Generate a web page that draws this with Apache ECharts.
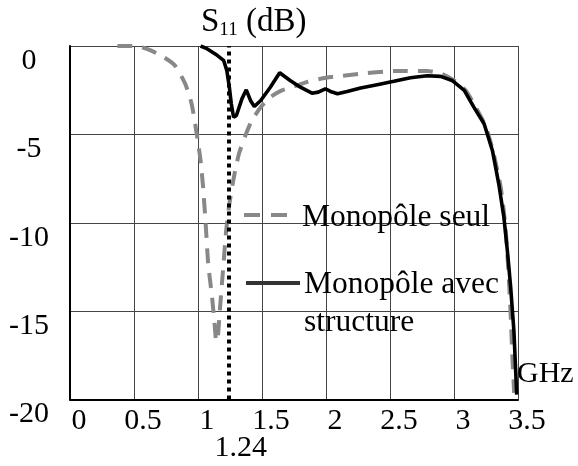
<!DOCTYPE html>
<html>
<head>
<meta charset="utf-8">
<script src="https://cdn.jsdelivr.net/npm/echarts@6/dist/echarts.min.js"></script>
<style>html,body{margin:0;padding:0;background:#fff;}#c{width:578px;height:466px;}</style>
</head>
<body>
<div id="c"></div>
<script>
// ---- data ----
const xTicks = [0, 0.5, 1, 1.5, 2, 2.5, 3, 3.5];
const yTicks = [-20, -15, -10, -5, 0];
const markerFreq = 1.24;

const seriesNames = ['Monopôle seul', 'Monopôle avec\nstructure'];

const freqSeul = [0.37, 0.48, 0.55, 0.63, 0.73, 0.82, 0.90, 0.95, 0.99, 1.02, 1.04, 1.06, 1.08, 1.11, 1.13, 1.14, 1.15, 1.17, 1.195, 1.22, 1.245, 1.28, 1.32, 1.37, 1.42, 1.49, 1.565, 1.655, 1.75, 1.85, 2.0, 2.27, 2.53, 2.79, 2.9, 3.0, 3.09, 3.17, 3.25, 3.31, 3.365, 3.4, 3.425, 3.445, 3.455, 3.47];
const s11Seul = [0, 0, -0.05, -0.25, -0.62, -1.1, -2.14, -3.27, -4.97, -6.48, -8.0, -10.08, -12.34, -14.23, -15.75, -16.6, -16.7, -15.0, -12.72, -10.45, -8.94, -7.43, -6.1, -5.07, -4.22, -3.46, -2.89, -2.51, -2.29, -2.04, -1.8, -1.57, -1.42, -1.42, -1.57, -1.95, -2.51, -3.46, -4.59, -6.1, -8.0, -10.08, -12.72, -15.56, -17.45, -19.62];

const freqAvec = [1.02, 1.07, 1.15, 1.2, 1.225, 1.245, 1.26, 1.278, 1.3, 1.343, 1.377, 1.41, 1.44, 1.49, 1.565, 1.638, 1.72, 1.8, 1.89, 1.94, 1.995, 2.035, 2.09, 2.165, 2.27, 2.4, 2.53, 2.66, 2.79, 2.895, 2.985, 3.08, 3.155, 3.235, 3.3, 3.35, 3.39, 3.417, 3.443, 3.468, 3.482, 3.49];
const s11Avec = [0, -0.15, -0.53, -0.81, -1.38, -2.33, -3.27, -4.03, -3.93, -2.99, -2.48, -3.08, -3.42, -3.08, -2.33, -1.51, -1.95, -2.33, -2.67, -2.61, -2.42, -2.57, -2.7, -2.57, -2.38, -2.19, -2.0, -1.8, -1.68, -1.72, -1.95, -2.51, -3.46, -4.4, -5.91, -7.81, -9.7, -11.59, -13.67, -16.12, -18.39, -19.72];

const FONT = '"Liberation Serif", "Times New Roman", serif';
const pair = (xs, ys) => xs.map((x, i) => [x, ys[i]]);

const chart = echarts.init(document.getElementById('c'), null, {renderer: 'canvas'});
chart.setOption({
  animation: false,
  backgroundColor: '#fff',
  grid: {left: 70, right: 60, top: 46, bottom: 66.5},
  xAxis: {
    type: 'value', min: xTicks[0], max: xTicks[xTicks.length - 1], interval: 0.5,
    axisLine: {show: true, onZero: false, lineStyle: {color: '#000', width: 2}},
    axisTick: {show: false},
    splitLine: {show: true, lineStyle: {color: '#444', width: 1}},
    axisLabel: {
      color: '#000', fontFamily: FONT, fontSize: 30, lineHeight: 30, margin: 7,
      padding: [0, 0, 0, 18],
      formatter: v => String(v)
    }
  },
  yAxis: {
    type: 'value', min: yTicks[0], max: yTicks[yTicks.length - 1], interval: 5,
    axisLine: {show: true, onZero: false, lineStyle: {color: '#000', width: 2}},
    axisTick: {show: false},
    splitLine: {show: true, lineStyle: {color: '#444', width: 1}},
    axisLabel: {
      color: '#000', fontFamily: FONT, fontSize: 30, lineHeight: 30, margin: 41,
      align: 'center', verticalAlign: 'top',
      formatter: v => String(v)
    }
  },
  series: [
    {
      name: seriesNames[0], type: 'line', data: pair(freqSeul, s11Seul),
      showSymbol: false, smooth: 0.2, z: 2,
      lineStyle: {color: '#888', width: 4, type: [15, 10], cap: 'butt'}
    },
    {
      name: seriesNames[1], type: 'line', data: pair(freqAvec, s11Avec),
      showSymbol: false, smooth: false, z: 3,
      lineStyle: {color: '#000', width: 3.6},
      markLine: {
        silent: true, symbol: 'none', z: 5,
        lineStyle: {color: '#000', width: 4, type: [4, 4]},
        label: {
          show: true, position: 'start', formatter: String(markerFreq),
          color: '#000', fontFamily: FONT, fontSize: 30, distance: 34,
          offset: [12, 0]
        },
        data: [[{coord: [markerFreq, yTicks[0]]}, {coord: [markerFreq, yTicks[yTicks.length - 1]]}]]
      }
    }
  ],
  graphic: [
    {type: 'text', left: 201, top: 6, z: 10,
      style: {text: '{a|S}{b|11}{a| (dB)}', fill: '#000',
        rich: {
          a: {fontFamily: FONT, fontSize: 33, lineHeight: 34, fill: '#000'},
          b: {fontFamily: FONT, fontSize: 19, lineHeight: 19, verticalAlign: 'bottom', fill: '#000'}
        }}},
    {type: 'text', left: 517, top: 359, z: 10,
      style: {text: 'GHz', fontFamily: FONT, fontSize: 30, fill: '#000', lineHeight: 30}},
    // legend
    {type: 'line', z: 10, shape: {x1: 244, y1: 215, x2: 292, y2: 215},
      style: {stroke: '#888', lineWidth: 4, lineDash: [16, 11]}},
    {type: 'text', left: 302, top: 202, z: 10,
      style: {text: seriesNames[0], fontFamily: FONT, fontSize: 31.5, lineHeight: 32, fill: '#000'}},
    {type: 'line', z: 10, shape: {x1: 246, y1: 283, x2: 300, y2: 283},
      style: {stroke: '#333', lineWidth: 4}},
    {type: 'text', left: 304, top: 266, z: 10,
      style: {text: seriesNames[1], fontFamily: FONT, fontSize: 31.5, lineHeight: 38, fill: '#000'}}
  ]
});
</script>
</body>
</html>
